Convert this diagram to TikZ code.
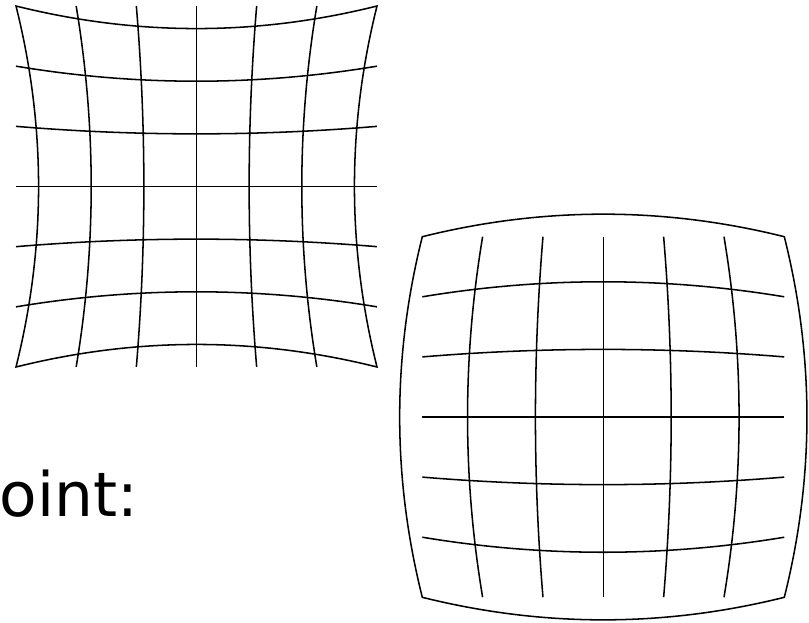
\documentclass[tikz,border=0pt]{standalone}
\usepackage{fontspec}
\setmainfont{DejaVu Sans}
\begin{document}
\begin{tikzpicture}[x=0.75pt,y=-0.75pt,
  gridline/.style={line width=1.15pt, black, line join=miter},
  curve/.style={variable=\t, domain=-1:1, samples=41, smooth}]
\useasboundingbox (0,0) rectangle (809,622);
\clip (0,0) rectangle (809,622);
% ---------- pincushion grid ----------
\def\pcx{196.5}\def\pcy{186.5}\def\pS{180.5}\def\pa{0.125}
\foreach \u in {-0.6667,-0.3333,0,0.3333,0.6667}{
  \draw[gridline, curve] plot ({\pcx+\u*\pS*(1-\pa*(1-\t*\t))},{\pcy+\t*\pS});
  \draw[gridline, curve] plot ({\pcx+\t*\pS},{\pcy+\u*\pS*(1-\pa*(1-\t*\t))});
}
\draw[gridline, curve]
  plot ({\pcx+\t*\pS},{\pcy-\pS*(1-\pa*(1-\t*\t))})
  -- plot ({\pcx+\pS*(1-\pa*(1-\t*\t))},{\pcy+\t*\pS})
  -- plot ({\pcx-\t*\pS},{\pcy+\pS*(1-\pa*(1-\t*\t))})
  -- plot ({\pcx-\pS*(1-\pa*(1-\t*\t))},{\pcy-\t*\pS}) -- cycle;
% ---------- barrel grid ----------
\def\bcx{603.3}\def\bcy{417}\def\bSx{181}\def\bSy{180.3}\def\bb{0.125}
\foreach \u in {-0.6667,-0.3333,0,0.3333,0.6667}{
  \draw[gridline, curve] plot ({\bcx+\u*\bSx*(1+\bb*(1-\t*\t))},{\bcy+\t*\bSy});
  \draw[gridline, curve] plot ({\bcx+\t*\bSx},{\bcy+\u*\bSy*(1+\bb*(1-\t*\t))});
}
\draw[gridline, curve]
  plot ({\bcx+\t*\bSx},{\bcy-\bSy*(1+\bb*(1-\t*\t))})
  -- plot ({\bcx+\bSx*(1+\bb*(1-\t*\t))},{\bcy+\t*\bSy})
  -- plot ({\bcx-\t*\bSx},{\bcy+\bSy*(1+\bb*(1-\t*\t))})
  -- plot ({\bcx-\bSx*(1+\bb*(1-\t*\t))},{\bcy-\t*\bSy}) -- cycle;
% ---------- label ----------
\node[anchor=base east, inner sep=0pt, font=\fontsize{46}{55}\selectfont] (lbl) at (138,516) {point:};
\end{tikzpicture}
\end{document}
